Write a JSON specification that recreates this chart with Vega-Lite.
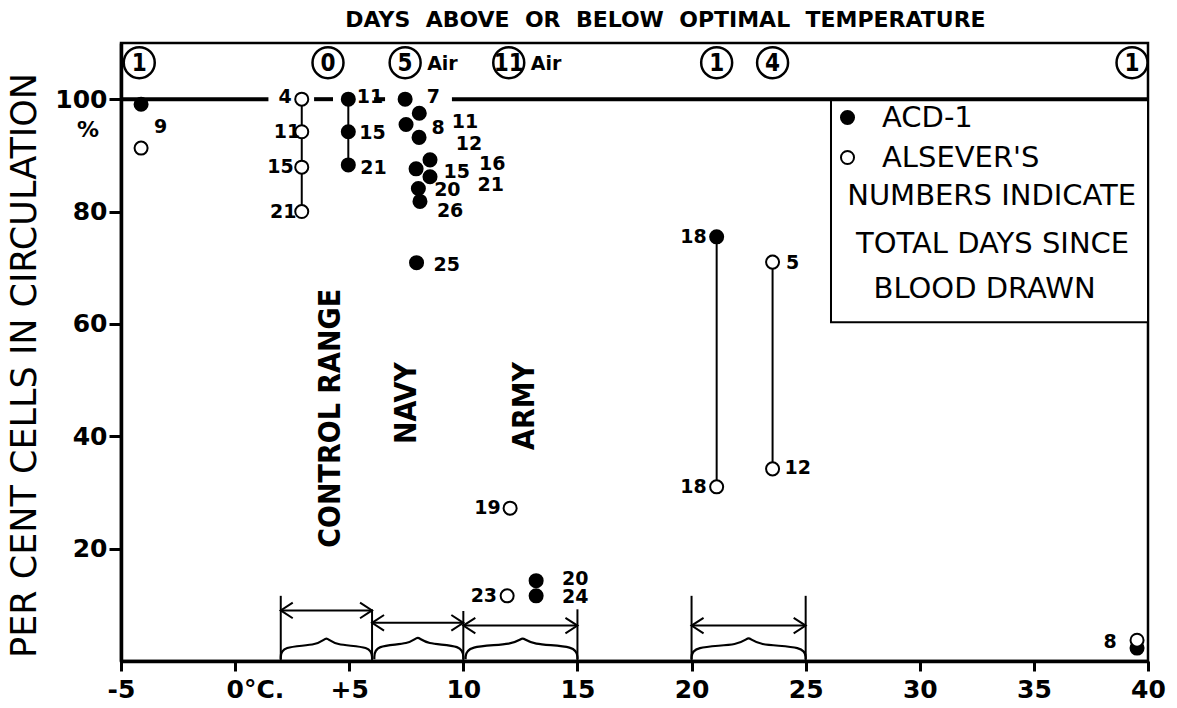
{
  "$schema": "https://vega.github.io/schema/vega-lite/v6.json",
  "width": 1027,
  "height": 618,
  "autosize": {"type": "none"},
  "padding": {"left": 121, "top": 43, "right": 29, "bottom": 47},
  "background": "white",
  "title": {
    "text": "DAYS\u00a0 ABOVE\u00a0 OR\u00a0 BELOW\u00a0 OPTIMAL\u00a0 TEMPERATURE",
    "font": "DejaVu Sans",
    "fontSize": 22,
    "fontWeight": "bold",
    "color": "black",
    "anchor": "middle",
    "frame": "group",
    "baseline": "alphabetic",
    "offset": 15,
    "dx": 31,
    "dy": 22
  },
  "config": {
    "view": {"stroke": "black", "strokeWidth": 2.5},
    "axis": {
      "domainColor": "black",
      "domainWidth": 3.5,
      "tickColor": "black",
      "tickWidth": 3,
      "labelColor": "black",
      "labelFont": "DejaVu Sans",
      "labelFontWeight": "bold",
      "labelFontSize": 25,
      "grid": false,
      "titleColor": "black"
    },
    "text": {"font": "DejaVu Sans", "color": "black"}
  },
  "datasets": {
    "pts": [
      {"s": "ACD-1", "x": -4.12, "y": 99.1},
      {"s": "ACD-1", "x": 4.96, "y": 100, "g": "b5"},
      {"s": "ACD-1", "x": 4.96, "y": 94.2, "g": "b5"},
      {"s": "ACD-1", "x": 4.96, "y": 88.3, "g": "b5"},
      {"s": "ACD-1", "x": 7.45, "y": 100},
      {"s": "ACD-1", "x": 8.07, "y": 97.5},
      {"s": "ACD-1", "x": 7.49, "y": 95.5},
      {"s": "ACD-1", "x": 8.06, "y": 93.2},
      {"s": "ACD-1", "x": 8.54, "y": 89.2},
      {"s": "ACD-1", "x": 7.93, "y": 87.6},
      {"s": "ACD-1", "x": 8.54, "y": 86.2},
      {"s": "ACD-1", "x": 8.03, "y": 84.1},
      {"s": "ACD-1", "x": 8.1, "y": 81.8},
      {"s": "ACD-1", "x": 7.95, "y": 70.9},
      {"s": "ACD-1", "x": 13.19, "y": 14.3},
      {"s": "ACD-1", "x": 13.19, "y": 11.6},
      {"s": "ACD-1", "x": 21.1, "y": 75.5, "g": "b21"},
      {"s": "ACD-1", "x": 39.52, "y": 2.3},
      {"s": "ALSEVER'S", "x": -4.12, "y": 91.3},
      {"s": "ALSEVER'S", "x": 2.92, "y": 100, "g": "a3"},
      {"s": "ALSEVER'S", "x": 2.92, "y": 94.2, "g": "a3"},
      {"s": "ALSEVER'S", "x": 2.92, "y": 87.9, "g": "a3"},
      {"s": "ALSEVER'S", "x": 2.92, "y": 80.0, "g": "a3"},
      {"s": "ALSEVER'S", "x": 12.05, "y": 27.2},
      {"s": "ALSEVER'S", "x": 11.92, "y": 11.6},
      {"s": "ALSEVER'S", "x": 21.1, "y": 31.0, "g": "b21"},
      {"s": "ALSEVER'S", "x": 23.55, "y": 71.0, "g": "a23"},
      {"s": "ALSEVER'S", "x": 23.55, "y": 34.2, "g": "a23"},
      {"s": "ALSEVER'S", "x": 39.52, "y": 3.7}
    ],
    "labels": [
      {"x": -3.26, "y": 95.1, "t": "9"},
      {"x": 2.19, "y": 100.4, "t": "4"},
      {"x": 2.27, "y": 94.2, "t": "11"},
      {"x": 1.99, "y": 87.9, "t": "15"},
      {"x": 2.11, "y": 79.9, "t": "21"},
      {"x": 5.91, "y": 100.4, "t": "11"},
      {"x": 6.02, "y": 93.9, "t": "15"},
      {"x": 6.06, "y": 87.7, "t": "21"},
      {"x": 8.69, "y": 100.4, "t": "7"},
      {"x": 8.9, "y": 94.9, "t": "8"},
      {"x": 10.07, "y": 96.0, "t": "11"},
      {"x": 10.25, "y": 92.1, "t": "12"},
      {"x": 9.71, "y": 87.1, "t": "15"},
      {"x": 11.27, "y": 88.5, "t": "16"},
      {"x": 9.3, "y": 83.9, "t": "20"},
      {"x": 11.2, "y": 84.7, "t": "21"},
      {"x": 9.42, "y": 80.1, "t": "26"},
      {"x": 9.27, "y": 70.5, "t": "25"},
      {"x": 11.06, "y": 27.2, "t": "19"},
      {"x": 10.9, "y": 11.6, "t": "23"},
      {"x": 14.9, "y": 14.6, "t": "20"},
      {"x": 14.9, "y": 11.4, "t": "24"},
      {"x": 20.08, "y": 75.5, "t": "18"},
      {"x": 20.08, "y": 31.0, "t": "18"},
      {"x": 24.43, "y": 70.9, "t": "5"},
      {"x": 24.65, "y": 34.3, "t": "12"},
      {"x": 38.34, "y": 3.4, "t": "8"}
    ],
    "days": [
      {"x": -4.2, "y": 106.5, "n": "1", "air": false},
      {"x": 4.07, "y": 106.5, "n": "0", "air": false},
      {"x": 7.45, "y": 106.5, "n": "5", "air": true},
      {"x": 11.99, "y": 106.5, "n": "11", "air": true},
      {"x": 21.1, "y": 106.5, "n": "1", "air": false},
      {"x": 23.55, "y": 106.5, "n": "4", "air": false},
      {"x": 39.3, "y": 106.5, "n": "1", "air": false}
    ],
    "base": [
      {"x": -5, "x2": 1.46, "y": 100},
      {"x": 3.46, "x2": 4.29, "y": 100},
      {"x": 6.09, "x2": 6.57, "y": 100},
      {"x": 9.5, "x2": 40, "y": 100}
    ],
    "arrows": [
      {"x": 2, "x2": 6, "y": 9.0},
      {"x": 6, "x2": 10, "y": 6.8},
      {"x": 10, "x2": 15, "y": 6.3},
      {"x": 20, "x2": 25, "y": 6.3}
    ],
    "posts": [
      {"x": 2, "y": 0, "y2": 11.6},
      {"x": 6, "y": 0, "y2": 9.2},
      {"x": 10, "y": 0, "y2": 8.9},
      {"x": 15, "y": 0, "y2": 9.2},
      {"x": 20, "y": 0, "y2": 11.6},
      {"x": 25, "y": 0, "y2": 11.6}
    ],
    "braces": [
      {"b": "c", "i": 0, "x": 2, "y": 0.3},
      {"b": "c", "i": 1, "x": 2, "y": 2.7},
      {"b": "c", "i": 2, "x": 3.7, "y": 2.7},
      {"b": "c", "i": 3, "x": 4, "y": 4.6},
      {"b": "c", "i": 4, "x": 4.3, "y": 2.7},
      {"b": "c", "i": 5, "x": 6, "y": 2.7},
      {"b": "c", "i": 6, "x": 6, "y": 0.3},
      {"b": "n", "i": 0, "x": 6.1, "y": 0.3},
      {"b": "n", "i": 1, "x": 6.1, "y": 2.9},
      {"b": "n", "i": 2, "x": 7.7, "y": 2.9},
      {"b": "n", "i": 3, "x": 8, "y": 4.7},
      {"b": "n", "i": 4, "x": 8.3, "y": 2.9},
      {"b": "n", "i": 5, "x": 10, "y": 2.9},
      {"b": "n", "i": 6, "x": 10, "y": 0.3},
      {"b": "a", "i": 0, "x": 10.1, "y": 0.3},
      {"b": "a", "i": 1, "x": 10.1, "y": 2.8},
      {"b": "a", "i": 2, "x": 12.3, "y": 2.8},
      {"b": "a", "i": 3, "x": 12.6, "y": 4.6},
      {"b": "a", "i": 4, "x": 12.9, "y": 2.8},
      {"b": "a", "i": 5, "x": 15, "y": 2.8},
      {"b": "a", "i": 6, "x": 15, "y": 0.3},
      {"b": "r", "i": 0, "x": 20, "y": 0.3},
      {"b": "r", "i": 1, "x": 20, "y": 2.7},
      {"b": "r", "i": 2, "x": 22.2, "y": 2.7},
      {"b": "r", "i": 3, "x": 22.5, "y": 4.7},
      {"b": "r", "i": 4, "x": 22.8, "y": 2.7},
      {"b": "r", "i": 5, "x": 25, "y": 2.7},
      {"b": "r", "i": 6, "x": 25, "y": 0.3}
    ],
    "groups": [
      {"x": 4.2, "y": 43.2, "t": "CONTROL RANGE"},
      {"x": 7.53, "y": 45.9, "t": "NAVY"},
      {"x": 12.7, "y": 45.4, "t": "ARMY"}
    ],
    "note": [
      {"x": 33.15, "y": 82.8, "t": "NUMBERS INDICATE"},
      {"x": 33.19, "y": 74.2, "t": "TOTAL DAYS SINCE"},
      {"x": 32.84, "y": 66.2, "t": "BLOOD DRAWN"}
    ],
    "box": [
      {"x": 26.11, "x2": 40, "y": 60.3, "y2": 100}
    ]
  },
  "encoding": {
    "x": {
      "field": "x", "type": "quantitative",
      "scale": {"domain": [-5, 40], "nice": false, "zero": false},
      "axis": {
        "title": null,
        "values": [-5, 0, 5, 10, 15, 20, 25, 30, 35, 40],
        "tickSize": 10,
        "labelPadding": 6,
        "labelExpr": "datum.value == 0 ? '0°C.' : datum.value == 5 ? '+5' : datum.value == -5 ? '-5' : datum.label",
        "labelAlign": {"condition": {"test": "datum.value === 0", "value": "left"}, "value": "center"},
        "labelOffset": {"condition": {"test": "datum.value === 0", "value": -9}, "value": 0}
      }
    },
    "y": {
      "field": "y", "type": "quantitative",
      "scale": {"domain": [0, 110], "nice": false, "zero": false},
      "axis": {
        "title": "PER CENT CELLS IN CIRCULATION",
        "titleFont": "DejaVu Sans",
        "titleFontSize": 35,
        "titleFontWeight": "normal",
        "titleAngle": 270,
        "titleAlign": "center",
        "titleBaseline": "middle",
        "titleX": -97,
        "titleY": 322,
        "values": [20, 40, 60, 80, 100],
        "tickSize": 12,
        "labelPadding": 2
      }
    }
  },
  "layer": [
    {
      "data": {"name": "box"},
      "mark": {"type": "rect", "fill": "white", "stroke": "black", "strokeWidth": 2},
      "encoding": {
        "x2": {"field": "x2"},
        "y2": {"field": "y2"}
      }
    },
    {
      "data": {"name": "braces"},
      "mark": {"type": "line", "interpolate": "basis", "color": "black", "strokeWidth": 2.2},
      "encoding": {
        "detail": {"field": "b"},
        "order": {"field": "i"}
      }
    },
    {
      "data": {"name": "posts"},
      "mark": {"type": "rule", "color": "black", "strokeWidth": 2},
      "encoding": {
        "y2": {"field": "y2"}
      }
    },
    {
      "data": {"name": "arrows"},
      "mark": {"type": "rule", "color": "black", "strokeWidth": 2},
      "encoding": {
        "x2": {"field": "x2"}
      }
    },
    {
      "data": {"name": "arrows"},
      "mark": {"type": "point", "shape": "M1,-0.65L0,0L1,0.65", "filled": false, "stroke": "black", "strokeWidth": 2, "size": 576, "opacity": 1},
      "encoding": {}
    },
    {
      "data": {"name": "arrows"},
      "mark": {"type": "point", "shape": "M-1,-0.65L0,0L-1,0.65", "filled": false, "stroke": "black", "strokeWidth": 2, "size": 576, "opacity": 1},
      "encoding": {
        "x": {"field": "x2", "type": "quantitative"}
      }
    },
    {
      "data": {"name": "base"},
      "mark": {"type": "rule", "color": "black", "strokeWidth": 4},
      "encoding": {
        "x2": {"field": "x2"}
      }
    },
    {
      "data": {"name": "pts"},
      "transform": [{"filter": "isValid(datum.g)"}],
      "mark": {"type": "line", "color": "black", "strokeWidth": 2},
      "encoding": {
        "detail": {"field": "g"},
        "order": {"field": "y"}
      }
    },
    {
      "data": {"name": "pts"},
      "mark": {"type": "point", "filled": true, "stroke": "black", "strokeWidth": 2, "opacity": 1, "shape": "circle", "size": 170},
      "encoding": {
        "fill": {
          "field": "s", "type": "nominal",
          "scale": {"domain": ["ACD-1", "ALSEVER'S"], "range": ["black", "white"]},
          "legend": {
            "orient": "none",
            "legendX": 712,
            "legendY": 60,
            "title": null,
            "labelFont": "DejaVu Sans",
            "labelFontSize": 29,
            "labelFontWeight": "normal",
            "labelColor": "black",
            "labelLimit": 0,
            "labelOffset": 20,
            "symbolType": "circle",
            "symbolSize": 170,
            "symbolStrokeWidth": 2,
            "symbolStrokeColor": "black",
            "rowPadding": 10,
            "padding": 0
          }
        }
      }
    },
    {
      "data": {"name": "labels"},
      "mark": {"type": "text", "fontSize": 19, "fontWeight": "bold", "align": "center", "baseline": "middle"},
      "encoding": {
        "text": {"field": "t"}
      }
    },
    {
      "data": {"name": "days"},
      "mark": {"type": "point", "shape": "circle", "filled": false, "fill": "white", "stroke": "black", "strokeWidth": 2.5, "size": 960, "opacity": 1},
      "encoding": {}
    },
    {
      "data": {"name": "days"},
      "mark": {"type": "text", "font": "DejaVu Sans Condensed, DejaVu Sans", "fontSize": 24, "fontWeight": "bold", "align": "center", "baseline": "middle", "dy": 1},
      "encoding": {
        "text": {"field": "n"}
      }
    },
    {
      "data": {"name": "days"},
      "transform": [{"filter": "datum.air"}],
      "mark": {"type": "text", "text": "Air", "fontSize": 19, "fontWeight": "bold", "align": "left", "baseline": "middle", "dx": 22, "dy": 1},
      "encoding": {}
    },
    {
      "data": {"name": "groups"},
      "mark": {"type": "text", "font": "DejaVu Sans Condensed, DejaVu Sans", "fontSize": 30, "fontWeight": "bold", "angle": 270, "align": "center", "baseline": "middle"},
      "encoding": {
        "text": {"field": "t"}
      }
    },
    {
      "data": {"name": "note"},
      "mark": {"type": "text", "fontSize": 29, "align": "center", "baseline": "middle"},
      "encoding": {
        "text": {"field": "t"}
      }
    },
    {
      "data": {"values": [{"x": -5, "y": 94.5}]},
      "mark": {"type": "text", "text": "%", "fontSize": 22, "fontWeight": "bold", "align": "center", "baseline": "middle", "dx": -33},
      "encoding": {}
    }
  ]
}
